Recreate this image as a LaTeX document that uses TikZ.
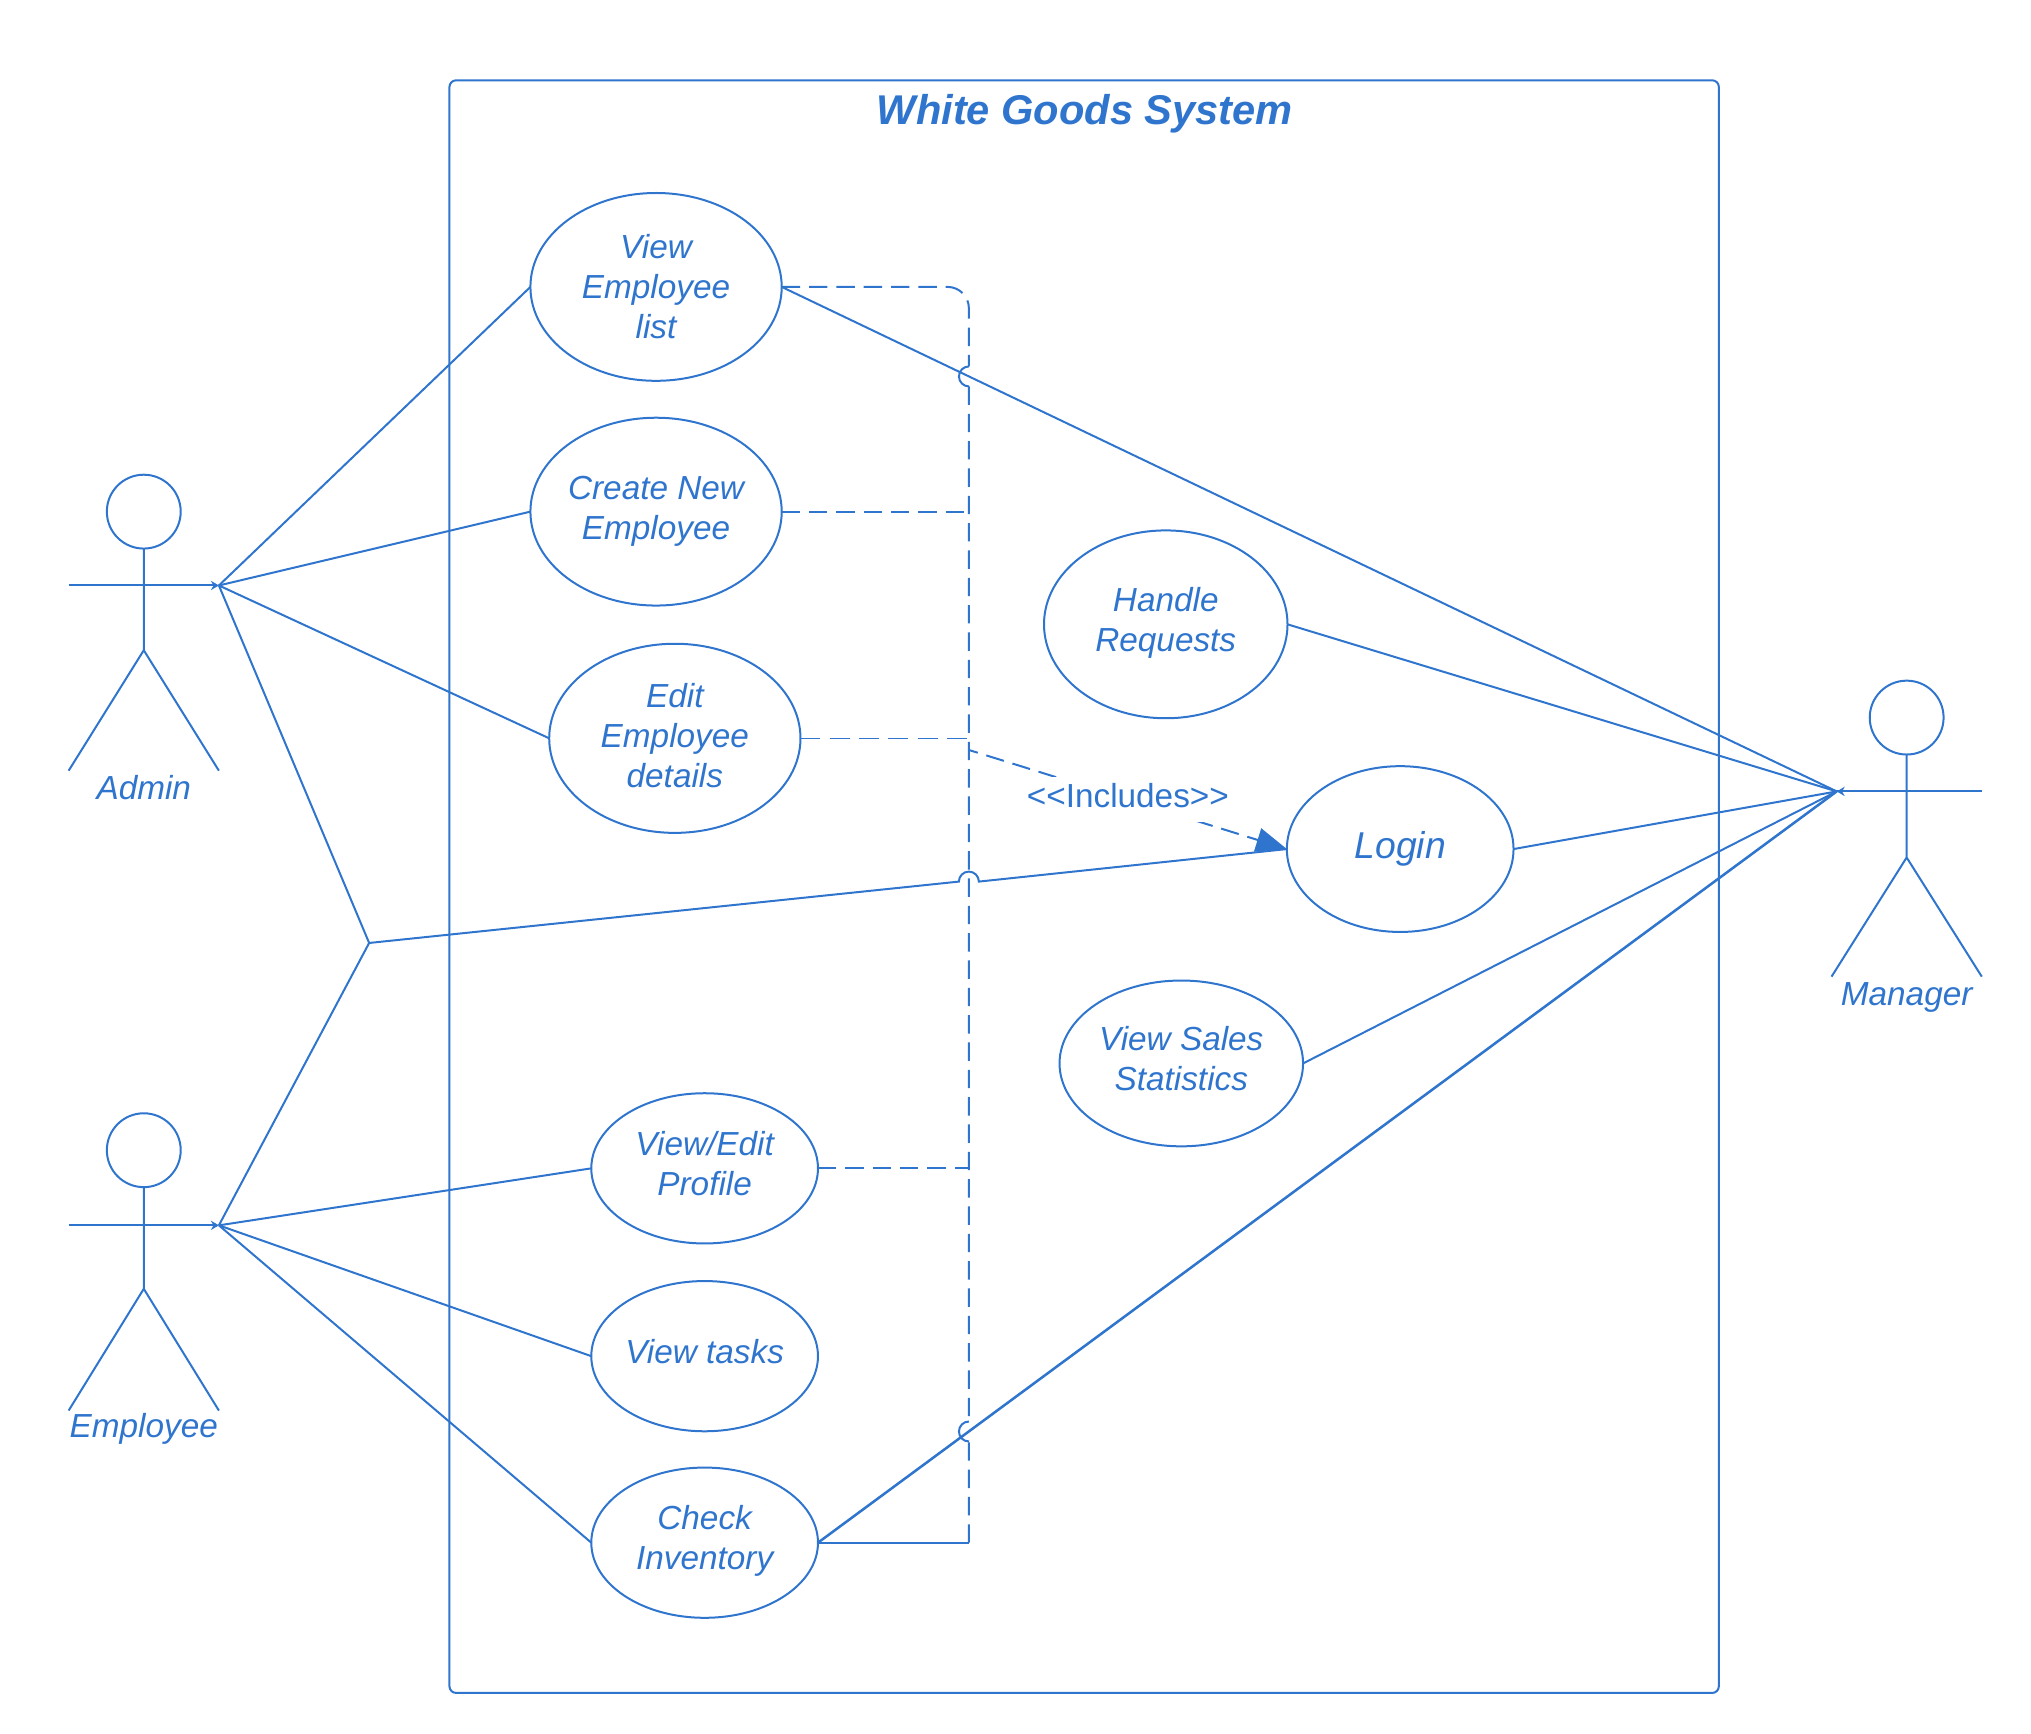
\documentclass[tikz,border=0pt]{standalone}
\usepackage{fontspec}
\setmainfont{Liberation Sans}
\usetikzlibrary{shapes.geometric,arrows.meta,calc}
\definecolor{ub}{HTML}{2F75CE}
\def\jr{7.5pt}
\tikzset{
  x=0.97147pt,y=-0.97147pt,
  every node/.style={text=ub,inner sep=0pt,outer sep=0pt},
  ln/.style={draw=ub,line width=1.5pt},
  thinln/.style={draw=ub,line width=1.15pt},
  dashln/.style={ln,dash pattern=on 13.8pt off 6.7pt},
  thindash/.style={thinln,dash pattern=on 15pt off 7pt},
  ucase/.style n args={2}{ellipse,ln,align=center,minimum width=#1*0.97147pt,minimum height=#2*0.97147pt,
     font=\fontsize{25}{30}\selectfont\itshape},
  head/.style={circle,ln,minimum size=55.4pt},
  actlabel/.style={font=\fontsize{25}{30}\selectfont\itshape},
  armtip/.style={ln,-{Stealth[length=6pt,width=7pt]}},
}
\begin{document}
\begin{tikzpicture}
\useasboundingbox (0,0) rectangle (1568,1338.7);
% system frame
\node[draw=ub,line width=1.5pt,rounded corners=5pt,minimum width=980*0.97147pt,minimum height=1245*0.97147pt] (frame) at (837,684.5) {};
\node[font=\fontsize{31.2}{36}\selectfont\bfseries\itshape] (title) at (837.5,87.5) {White Goods System};
% use cases
\node[ucase={194}{145}] (view) at (506.5,221.5) {View\\Employee\\list\\[-29pt]\mbox{}};
\node[ucase={194}{145}] (create) at (506.5,395) {Create New\\Employee};
\node[ucase={194}{146}] (edit) at (521,570) {Edit\\Employee\\details\\[-26pt]\mbox{}};
\node[ucase={188}{145}] (handle) at (900,482) {Handle\\Requests\\[-22.7pt]\mbox{}};
\node[ucase={175}{128},font=\fontsize{28}{32}\selectfont\itshape] (login) at (1081,655.5) {Login};
\node[ucase={188}{128}] (sales) at (912,821) {View Sales\\Statistics\\[-22pt]\mbox{}};
\node[ucase={175}{116}] (profile) at (544,902) {View/Edit\\Profile\\[-22pt]\mbox{}};
\node[ucase={175}{116}] (tasks) at (544,1047) {View tasks\\[-23pt]\mbox{}};
\node[ucase={175}{116}] (check) at (544,1191) {Check\\Inventory\\[-22.7pt]\mbox{}};
% actors
\node[head] (admh) at (111,395) {};
\coordinate (admhip) at (111,502);
\coordinate (admL) at (53,452); \coordinate (admR) at (169,452);
\coordinate (admfl) at (53,595); \coordinate (admfr) at (169,595);
\node[actlabel] (admlab) at (111,608) {Admin};
\node[head] (emph) at (111,888) {};
\coordinate (emphip) at (111,995);
\coordinate (empL) at (53,946); \coordinate (empR) at (169,946);
\coordinate (empfl) at (53,1089); \coordinate (empfr) at (169,1089);
\node[actlabel] (emplab) at (111,1103) {Employee};
\node[head] (mgrh) at (1472,554) {};
\coordinate (mgrhip) at (1472,662);
\coordinate (mgrL) at (1414,611); \coordinate (mgrR) at (1530,611); \coordinate (mgrhub) at (1418,611);
\coordinate (mgrfl) at (1414,754); \coordinate (mgrfr) at (1530,754);
\node[actlabel] (mgrlab) at (1472,770) {Manager};
\draw[ln] (admh) -- (admhip) -- (admfl) (admhip) -- (admfr);
\draw[armtip] (admL) -- (admR);
\draw[ln] (emph) -- (emphip) -- (empfl) (emphip) -- (empfr);
\draw[armtip] (empL) -- (empR);
\draw[ln] (mgrh) -- (mgrhip) -- (mgrfl) (mgrhip) -- (mgrfr);
\draw[ln] (mgrL) -- (mgrR);
\draw[armtip] (mgrR) -- (mgrhub);
% associations
\draw[ln] (admR) -- (view.west);
\draw[ln] (admR) -- (create.west);
\draw[ln] (admR) -- (edit.west);
\draw[ln] (empR) -- (profile.west);
\draw[ln] (empR) -- (tasks.west);
\draw[ln] (empR) -- (check.west);
\draw[ln] (view.east) -- (mgrhub);
\draw[ln] (handle.east) -- (mgrhub);
\draw[ln] (login.east) -- (mgrhub);
\draw[ln] (sales.east) -- (mgrhub);
\draw[ln,line width=1.9pt] (check.east) -- (mgrhub);
% bus
\coordinate (busC) at (748,221.5);
\coordinate (busD) at (748,262);
\coordinate (busE) at (748,1191);
\coordinate (busI) at (748,579);
\coordinate (junc) at (285,728);
\coordinate (x1) at (intersection of view.east--mgrhub and busC--busE);
\coordinate (x2) at (intersection of check.east--mgrhub and busC--busE);
\coordinate (x3) at (intersection of junc--login.west and busC--busE);
\draw[dashln] (view.east) [rounded corners=16pt] -- (busC) -- (busD) [sharp corners] -- ($(x1)+(0,\jr)$);
\draw[ln] ($(x1)+(0,\jr)$) arc[start angle=90,end angle=270,radius=\jr];
\draw[dashln] ($(x1)+(0,-\jr)$) -- ($(x2)+(0,\jr)$);
\draw[ln] ($(x2)+(0,\jr)$) arc[start angle=90,end angle=270,radius=\jr];
\draw[dashln] (busE) -- ($(x2)+(0,-\jr)$);
\draw[dashln] (create.east) -- (create.east -| busC);
\draw[thindash] (edit.east) -- (edit.east -| busC);
\draw[dashln] (profile.east) -- (profile.east -| busC);
\draw[ln] (check.east) -- (busE);
% shared login line
\draw[ln] (admR) -- (junc);
\draw[ln] (empR) -- (junc);
\draw[ln] (junc) -- ($(x3)+(-\jr,0)$) arc[start angle=180,end angle=0,radius=\jr] -- (login.west);
% includes
\draw[dashln,dash phase=6.8pt,-{Triangle[length=23pt,width=18pt]}] (busI) -- node[midway,fill=white,minimum width=152pt,minimum height=34pt,font=\fontsize{25}{30}\selectfont] (inc) {\raisebox{-6pt}[0pt][0pt]{<{}<Includes>{}>}} (login.west);
\end{tikzpicture}
\end{document}
